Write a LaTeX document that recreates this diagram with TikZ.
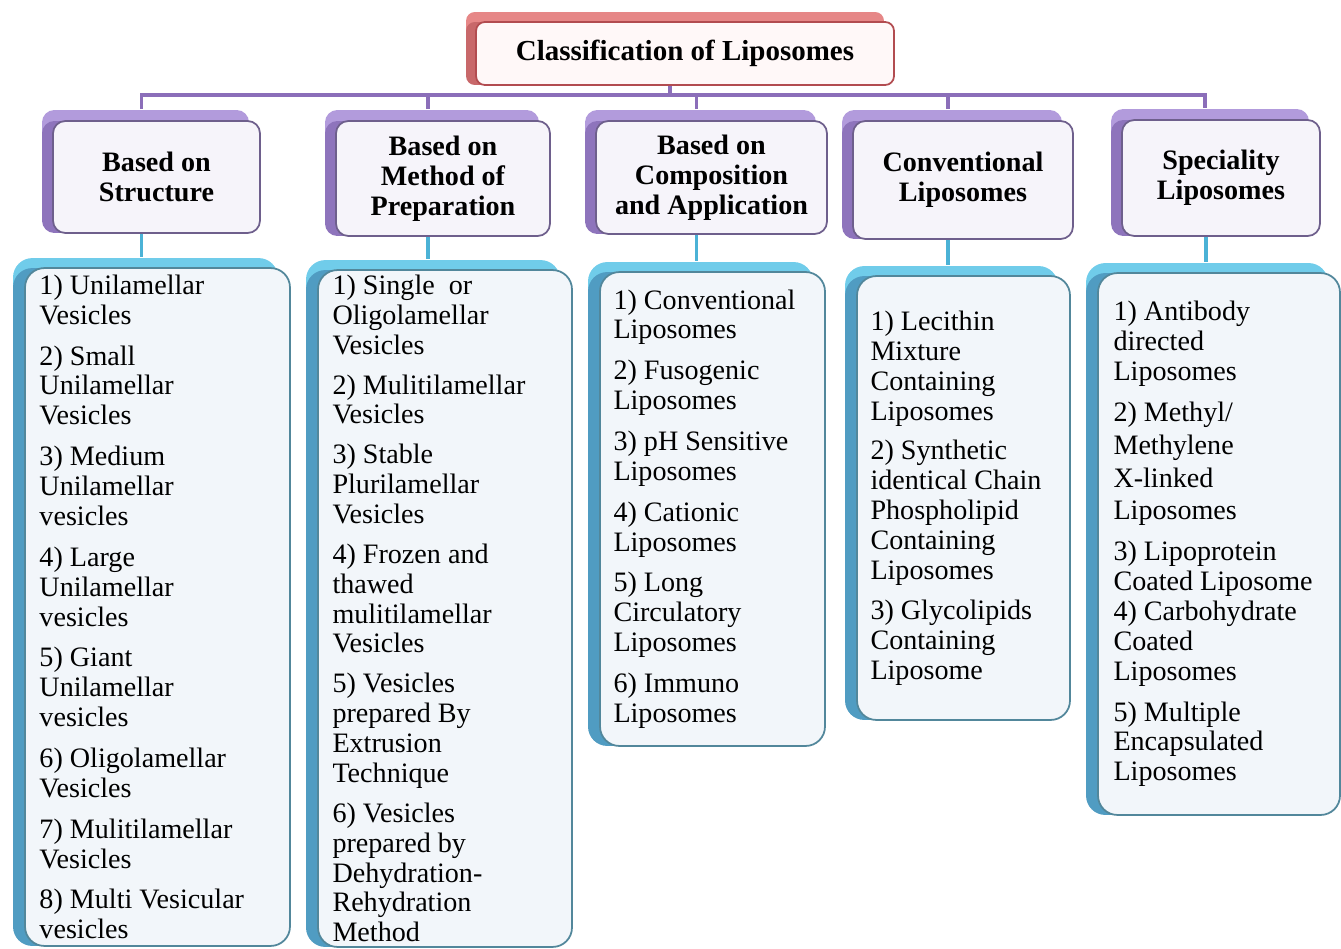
\documentclass[tikz,border=0pt]{standalone}
\usepackage{fontspec}
\setmainfont{Liberation Serif}
\usetikzlibrary{shadows,calc}
\definecolor{titleback}{RGB}{230,135,135}
\definecolor{titleside}{RGB}{200,104,106}
\definecolor{titleedge}{RGB}{178,76,80}
\definecolor{titlefill}{RGB}{255,248,248}
\definecolor{headback}{RGB}{178,155,220}
\definecolor{headside}{RGB}{142,116,188}
\definecolor{headedge}{RGB}{110,95,140}
\definecolor{headfill}{RGB}{246,244,250}
\definecolor{buscol}{RGB}{139,110,185}
\definecolor{listback}{RGB}{112,204,234}
\definecolor{listside}{RGB}{80,156,194}
\definecolor{listedge}{RGB}{82,135,155}
\definecolor{listfill}{RGB}{242,246,250}
\definecolor{stemcol}{RGB}{75,178,214}
\tikzset{
  titlebox/.style={draw=titleedge,line width=1pt,fill=titlefill,rounded corners=5pt,
    minimum width=8.36cm,minimum height=1.26cm,font=\fontsize{16.5}{17}\selectfont\bfseries,
    general shadow={fill=titleback,shadow xshift=-0.2cm,shadow yshift=0.2cm},
    general shadow={fill=titleside,shadow xshift=-0.2cm,shadow yshift=0cm}},
  headbox/.style={draw=headedge,line width=1pt,fill=headfill,rounded corners=7pt,align=center,
    font=\fontsize{16}{17}\selectfont\bfseries,
    general shadow={fill=headback,shadow xshift=-0.22cm,shadow yshift=0.22cm},
    general shadow={fill=headside,shadow xshift=-0.22cm,shadow yshift=0cm}},
  listbox/.style={draw=listedge,line width=1pt,fill=listfill,rounded corners=11pt,
    general shadow={fill=listback,shadow xshift=-0.24cm,shadow yshift=0.2cm},
    general shadow={fill=listside,shadow xshift=-0.24cm,shadow yshift=0cm}},
  listtext/.style={anchor=west,align=left,inner sep=0pt,font=\fontsize{16}{17}\selectfont},
  busline/.style={draw=buscol,line width=2.2pt},
  stemline/.style={draw=stemcol,line width=2.2pt},
}
\begin{document}
\begin{tikzpicture}[x=0.02cm,y=-0.02cm]
\useasboundingbox (0,0) rectangle (1341,949);
\path
(685,53.5)    node[titlebox] (T) {Classification of Liposomes}
(156.5,177)   node[headbox,minimum width=4.14cm,minimum height=2.24cm] (H1) {Based on\\Structure}
(443,178.5)   node[headbox,minimum width=4.28cm,minimum height=2.30cm] (H2) {Based on\\Method of\\Preparation}
(711.5,177.5) node[headbox,minimum width=4.62cm,minimum height=2.26cm] (H3) {Based on\\Composition\\and Application}
(963,180)     node[headbox,minimum width=4.40cm,minimum height=2.36cm] (H4) {Conventional\\Liposomes}
(1221,178)    node[headbox,minimum width=3.96cm,minimum height=2.32cm] (H5) {Speciality\\Liposomes}
(157.5,607)   node[listbox,minimum width=5.30cm,minimum height=13.56cm] (L1) {}
(445,608.5)   node[listbox,minimum width=5.08cm,minimum height=13.54cm] (L2) {}
(712.5,509)   node[listbox,minimum width=4.50cm,minimum height=9.48cm] (L3) {}
(963.5,498)   node[listbox,minimum width=4.26cm,minimum height=8.88cm] (L4) {}
(1219,544)    node[listbox,minimum width=4.84cm,minimum height=10.84cm] (L5) {};
% list texts
\node[listtext] (L1t) at ($(L1.west)+(15,0)$) {1) Unilamellar\\Vesicles\\[0.22cm]
  2) Small\\Unilamellar\\Vesicles\\[0.22cm]
  3) Medium\\Unilamellar\\vesicles\\[0.22cm]
  4) Large\\Unilamellar\\vesicles\\[0.22cm]
  5) Giant\\Unilamellar\\vesicles\\[0.22cm]
  6) Oligolamellar\\Vesicles\\[0.22cm]
  7) Mulitilamellar\\Vesicles\\[0.22cm]
  8) Multi Vesicular\\vesicles};
\node[listtext] (L2t) at ($(L2.west)+(15,0)$) {1) Single\ \ or\\Oligolamellar\\Vesicles\\[0.2cm]
  2) Mulitilamellar\\Vesicles\\[0.2cm]
  3) Stable\\Plurilamellar\\Vesicles\\[0.2cm]
  4) Frozen and\\thawed\\mulitilamellar\\Vesicles\\[0.2cm]
  5) Vesicles\\prepared By\\Extrusion\\Technique\\[0.2cm]
  6) Vesicles\\prepared by\\Dehydration-\\Rehydration\\Method};
\node[listtext] (L3t) at ($(L3.west)+(14,0)$) {1) Conventional\\Liposomes\\[0.22cm]
  2) Fusogenic\\Liposomes\\[0.22cm]
  3) pH Sensitive\\Liposomes\\[0.22cm]
  4) Cationic\\Liposomes\\[0.22cm]
  5) Long\\Circulatory\\Liposomes\\[0.22cm]
  6) Immuno\\Liposomes};
\node[listtext] (L4t) at ($(L4.west)+(14,0)$) {1) Lecithin\\Mixture\\Containing\\Liposomes\\[0.2cm]
  2) Synthetic\\identical Chain\\Phospholipid\\Containing\\Liposomes\\[0.2cm]
  3) Glycolipids\\Containing\\Liposome};
\node[listtext] (L5t) at ($(L5.west)+(16,0)$) {1) Antibody\\directed\\Liposomes\\[0.22cm]
  2) Methyl/\\[0.06cm]Methylene\\[0.06cm]X-linked\\[0.06cm]Liposomes\\[0.22cm]
  3) Lipoprotein\\Coated Liposome\\
  4) Carbohydrate\\Coated\\Liposomes\\[0.22cm]
  5) Multiple\\Encapsulated\\Liposomes};
% connectors
\draw[busline] ($(T.south)+(-15,0)$) -- ++(0,11);
\draw[busline] ($(H1.north)+(-15,-11)$) -- ++(0,-14) -| ($(H5.north)+(-16,-11)$);
\foreach \h in {H2,H3,H4}
  \draw[busline] ($(\h.north)+(-15,-11)$) -- ++(0,-14);
\foreach \h/\l in {H1/L1,H2/L2,H3/L3,H4/L4,H5/L5}
  \draw[stemline] let \p1=(\h.south), \p2=(\l.north) in
    (\x1-0.3cm,\y1) -- (\x1-0.3cm,\y2+0.2cm);
\end{tikzpicture}
\end{document}
